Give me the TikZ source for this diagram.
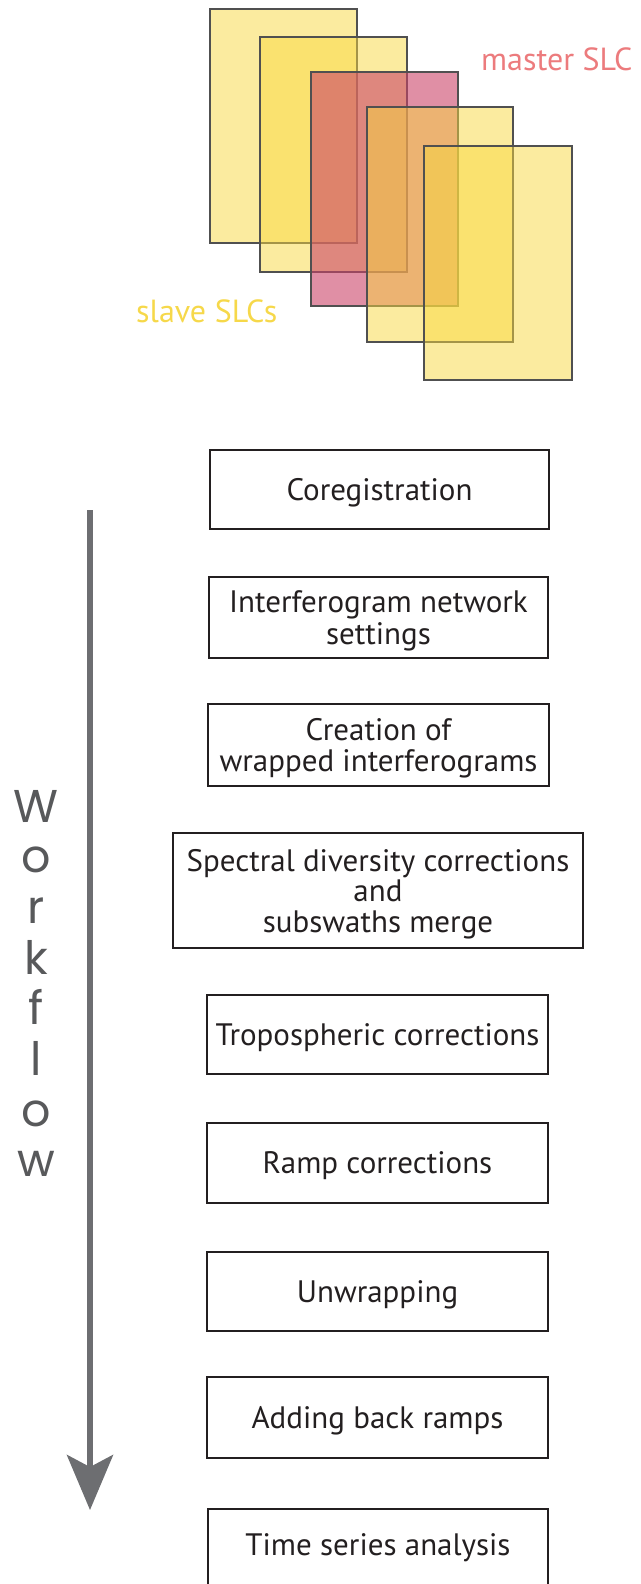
\documentclass[tikz,border=0pt]{standalone}
\usepackage{fontspec}
\setmainfont{PT Sans}
\newfontfamily\wffont{Poppins}
\usetikzlibrary{arrows.meta}
\definecolor{slcyellow}{HTML}{F8D840}
\definecolor{slcpink}{HTML}{CB4469}
\definecolor{slcedge}{HTML}{505050}
\definecolor{boxline}{HTML}{231F20}
\definecolor{mastertxt}{HTML}{EC7B7D}
\definecolor{slavetxt}{HTML}{F6D84A}
\definecolor{wfgray}{HTML}{6D6E71}
\definecolor{wftext}{HTML}{58595B}
\newcommand{\mlines}[1]{\begin{tabular}[t]{@{}c@{}}#1\end{tabular}}
\tikzset{
  slc/.style={draw=slcedge, line width=1.8pt, fill=slcyellow, fill opacity=0.5},
  slcmaster/.style={draw=slcedge, line width=1.8pt, fill=slcpink, fill opacity=0.6},
  stepbox/.style={draw=boxline, line width=1.5pt, inner sep=0pt, minimum width=341pt,
    text=boxline, text height=21.5pt, text depth=0pt},
  lab/.style={inner sep=0pt, anchor=base west, font=\fontsize{32}{36}\selectfont},
}
\begin{document}
\begin{tikzpicture}[x=1pt, y=-1pt]
\useasboundingbox (0,0) rectangle (640,1584);
\clip (0,0) rectangle (640,1584);
% SLC stack
\draw[slc] (210,9) rectangle (357,243);
\draw[slc] (260,37) rectangle (407,272);
\draw[slcmaster] (311,72) rectangle (458,306);
\draw[slc] (367,107) rectangle (513,342);
\draw[slc] (424,146) rectangle (572,380);
\node[lab, text=mastertxt] (master) at (481,71) {master SLC};
\node[lab, text=slavetxt] (slave) at (136,322) {slave SLCs};
% workflow arrow
\coordinate (wfstart) at (90,510);
\coordinate (wfend) at (90,1510);
\draw[wfgray, line width=6pt, -{Stealth[length=55pt, width=46pt, inset=12pt]}] (wfstart) -- (wfend);
\node[font=\wffont\fontsize{46}{50.7}\selectfont, text=wftext, anchor=base, inner sep=0pt] (wf) at (36,822)
  {\mlines{W\\o\\r\\k\\f\\l\\o\\w}};
% steps
\node[stepbox, minimum width=339pt, minimum height=79pt, font=\fontsize{31}{36}\selectfont] (b1) at (379.5,489.5) {\mlines{Coregistration}};
\node[stepbox, minimum width=339pt, minimum height=81pt, text depth=32pt, font=\fontsize{31}{32}\selectfont] (b2) at (378.5,617.5) {\mlines{Interferogram network\\settings}};
\node[stepbox, minimum height=82pt, text depth=30pt, font=\fontsize{31}{30}\selectfont] (b3) at (378.5,745) {\mlines{Creation of\\wrapped interferograms}};
\node[stepbox, minimum width=410pt, minimum height=115pt, text depth=60pt, font=\fontsize{31}{30}\selectfont] (b4) at (378,890.5) {\mlines{Spectral diversity corrections\\and\\subswaths merge}};
\node[stepbox, minimum height=79pt, font=\fontsize{31}{36}\selectfont] (b5) at (377.5,1034.5) {\mlines{Tropospheric corrections}};
\node[stepbox, minimum height=80pt, font=\fontsize{31}{36}\selectfont] (b6) at (377.5,1163) {\mlines{Ramp corrections}};
\node[stepbox, minimum height=79pt, font=\fontsize{31}{36}\selectfont] (b7) at (377.5,1291.5) {\mlines{Unwrapping}};
\node[stepbox, minimum height=81pt, font=\fontsize{31}{36}\selectfont] (b8) at (377.5,1417.5) {\mlines{Adding back ramps}};
\node[stepbox, minimum width=340pt, minimum height=80pt, text depth=9pt, font=\fontsize{31}{36}\selectfont] (b9) at (378,1549) {\mlines{Time series analysis}};
\end{tikzpicture}
\end{document}
